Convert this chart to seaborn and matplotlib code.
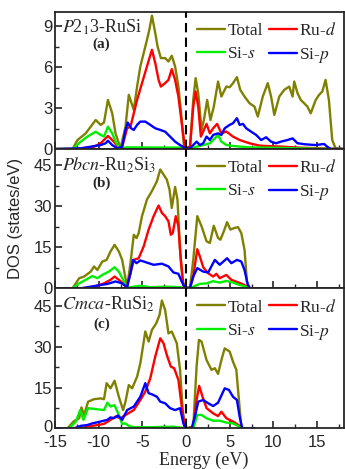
import matplotlib
matplotlib.use("Agg")
import matplotlib.pyplot as plt
import matplotlib.transforms as mtransforms
import seaborn as sns
import pandas as pd
from matplotlib.lines import Line2D
from matplotlib.ticker import MultipleLocator

# ---------------- data (energy in eV, DOS in states/eV) ----------------
# Panel (a) P2_13-RuSi
a_tot_x = [-15, -12.99, -12.42, -11.48, -10.91, -10.34, -9.77, -9.39, -8.94, -8.45, -8.07, -7.5, -6.93, -6.55, -5.98, -5.6, -5.23, -4.85, -4.47, -4.2, -3.9, -3.52, -3.26, -2.88, -2.39, -2.01, -1.63, -1.25, -0.87, -0.49, -0.23, 0.0,
           0.46, 0.83, 1.10, 1.40, 1.78, 2.05, 2.42, 2.80, 3.18, 3.67, 4.05, 4.62, 5.0, 5.38, 5.83, 6.21, 6.70, 7.27, 7.84, 8.22, 8.79, 9.36, 9.74, 10.11, 10.68, 11.25, 11.82, 12.2, 12.39, 12.77, 13.14, 13.52, 13.9, 14.28, 14.85, 15.23, 15.61, 15.98, 16.36, 16.74, 17.12, 18]
a_tot_y = [0, 0, 0.66, 1.15, 1.64, 2.13, 1.77, 1.94, 3.6, 2.62, 1.15, 0.05, 1.64, 3.97, 2.87, 4.58, 6.06, 7.03, 8.0, 8.75, 9.78, 8.5, 7.53, 6.67, 6.67, 6.42, 6.84, 6.06, 4.58, 2.13, 0.17, 0,
           0.17, 3.6, 5.2, 4.09, 1.4, 2.13, 3.6, 2.13, 3.1, 4.95, 3.85, 4.58, 4.53, 4.83, 5.27, 4.34, 3.85, 3.36, 3.11, 2.38, 3.85, 4.83, 3.85, 2.5, 3.85, 4.34, 4.58, 3.85, 4.95, 4.09, 3.6, 3.36, 3.11, 2.62, 3.6, 3.97, 4.22, 5.07, 3.6, 0.66, 0.05, 0]
a_rud_x = [-15, -12.42, -10.53, -9.77, -8.94, -8.26, -7.69, -7.31, -6.74, -6.36, -5.6, -5.04, -4.47, -3.9, -3.52, -3.14, -2.88, -2.39, -2.01, -1.63, -1.25, -0.87, -0.49, -0.11,
           0.46, 0.83, 1.10, 1.40, 1.70, 2.05, 2.35, 2.73, 3.11, 3.56, 4.05, 4.62, 5.38, 6.14, 7.27, 8.41, 9.17, 11.06, 12.95, 16.74, 18]
a_rud_y = [0, 0, 0.17, 0.42, 0.96, 0.54, 0.05, 0.17, 1.52, 1.64, 3.6, 4.83, 6.06, 7.28, 6.3, 5.07, 4.58, 4.83, 5.07, 5.86, 5.07, 3.85, 1.89, 0.05,
           0.17, 3.11, 4.22, 3.11, 0.91, 1.4, 1.84, 1.15, 1.52, 1.84, 1.15, 1.28, 0.91, 0.66, 0.42, 0.25, 0.22, 0.17, 0.1, 0.02, 0]
a_sis_x = [-15, -12.99, -12.05, -11.29, -10.34, -9.77, -9.39, -8.94, -8.45, -8.07, -7.58, -6.74, -0.3, 0.0,
           0.46, 1.21, 1.97, 2.73, 3.3, 3.67, 4.05, 4.62, 5.38, 7.27, 9.17, 12.95, 16.74, 18]
a_sis_y = [0, 0, 0.54, 0.91, 1.27, 1.03, 0.91, 1.64, 1.15, 0.54, 0.05, 0.12, 0.1, 0,
           0, 0.17, 0.29, 0.42, 0.78, 1.03, 0.54, 0.29, 0.22, 0.12, 0.1, 0.05, 0, 0]
a_sip_x = [-15, -12.05, -10.91, -9.77, -9.2, -8.94, -8.45, -7.88, -7.31, -6.93, -6.67, -6.29, -5.98, -5.6, -5.23, -4.66, -4.09, -3.52, -2.95, -2.39, -1.82, -1.25, -0.68, -0.11,
           0.46, 0.83, 1.21, 1.59, 1.97, 2.35, 2.73, 3.11, 3.67, 4.05, 4.43, 5.0, 5.38, 5.83, 6.14, 6.52, 6.89, 7.46, 8.03, 8.6, 9.17, 9.74, 10.3, 10.87, 11.63, 12.2, 12.77, 13.71, 14.85, 15.8, 16.17, 16.55, 18]
a_sip_y = [0, 0.05, 0.17, 0.29, 0.42, 0.61, 0.29, 0.05, 0.17, 1.4, 1.94, 1.52, 1.4, 1.77, 2.01, 2.01, 1.77, 1.52, 1.4, 1.27, 0.91, 0.54, 0.29, 0.05,
           0.05, 0.29, 0.54, 0.29, 0.42, 0.91, 0.66, 1.03, 1.15, 1.03, 1.52, 1.77, 1.89, 2.26, 1.77, 1.84, 1.52, 1.27, 1.03, 0.66, 0.86, 0.54, 0.42, 0.54, 0.66, 0.78, 0.42, 0.34, 0.29, 0.37, 0.17, 0, 0]

# Panel (b) Pbcn-Ru2Si3
b_tot_x = [-15, -12.99, -12.23, -11.67, -10.91, -10.53, -10.15, -9.58, -9.09, -8.64, -8.18, -7.69, -7.31, -6.93, -6.74, -6.36, -5.98, -5.67, -5.42, -5.04, -4.47, -3.9, -3.33, -2.95, -2.58, -2.2, -1.89, -1.63, -1.25, -0.98, -0.68, -0.38, -0.11,
           0.46, 0.83, 1.29, 1.78, 2.35, 2.73, 3.18, 3.67, 3.94, 4.32, 4.7, 5.08, 5.57, 5.95, 6.33, 6.7, 6.97, 7.27, 9.2]
b_tot_y = [0, 0, 3.7, 4.3, 6.1, 8.0, 6.7, 9.8, 10.4, 13.5, 15.9, 13.5, 10.4, 3.7, 0.6, 9.2, 19.6, 18.4, 20.2, 26.4, 32.5, 35.6, 39.2, 43.5, 41.7, 39.8, 36.2, 29.4, 37.1, 32.5, 14.1, 2.5, 0,
           0.4, 10.4, 26.4, 22.7, 17.2, 16.6, 22.9, 18.4, 17.8, 20.8, 24.2, 21.5, 22.1, 22.4, 20.2, 14.1, 2.5, 0, 0]
b_rud_x = [-15, -11.67, -10.53, -9.39, -8.64, -8.18, -7.69, -7.2, -6.82, -6.36, -5.98, -5.42, -4.85, -4.28, -3.71, -3.14, -2.76, -2.39, -2.01, -1.74, -1.52, -1.17, -0.87, -0.6, -0.3, -0.11,
           0.46, 0.83, 1.29, 1.59, 1.97, 2.54, 3.11, 3.48, 3.86, 4.62, 5.19, 5.95, 6.7, 7.27, 9.2]
b_rud_y = [0, 0, 0.6, 1.8, 3.1, 4.3, 3.1, 1.8, 0.4, 5.5, 10.4, 11.0, 15.3, 21.5, 26.4, 30.3, 27.6, 26.4, 24.5, 19.6, 20.2, 26.4, 22.7, 10.4, 1.2, 0,
           0.2, 4.3, 14.3, 11.6, 7.7, 5.5, 4.3, 5.3, 3.7, 4.9, 3.1, 2.2, 1.2, 0, 0]
b_sis_x = [-15, -12.99, -12.23, -11.48, -10.72, -10.15, -9.58, -8.83, -8.18, -7.69, -7.2, -6.74, -5.98, -5.23, -4.09, -2.2, -0.68, -0.11,
           0.46, 1.02, 1.59, 2.35, 3.11, 3.86, 4.62, 5.38, 6.14, 6.89, 7.27, 9.2]
b_sis_y = [0, 0, 1.8, 3.1, 4.5, 3.7, 4.9, 6.1, 7.7, 6.1, 3.1, 0.2, 0.6, 0.9, 0.4, 0.6, 0.4, 0,
           0, 0.9, 1.6, 1.8, 2.6, 2.1, 2.7, 2.1, 1.2, 0.6, 0, 0]
b_sip_x = [-15, -12.05, -10.91, -9.77, -9.01, -8.07, -7.31, -6.74, -6.36, -6.06, -5.67, -5.23, -4.47, -3.71, -2.76, -2.01, -1.44, -0.87, -0.49, -0.11,
           0.46, 0.83, 1.29, 1.97, 2.54, 3.3, 3.86, 4.7, 5.19, 5.83, 6.33, 6.7, 7.08, 7.35, 9.2]
b_sip_y = [0, 0, 0.6, 1.2, 1.6, 2.5, 1.8, 0.4, 5.5, 10.4, 9.2, 10.2, 9.4, 8.6, 9.0, 8.0, 5.8, 5.3, 2.5, 0,
           0.2, 4.3, 7.4, 6.1, 5.8, 10.4, 8.6, 11.0, 9.2, 10.4, 9.8, 6.7, 1.2, 0, 0]

# Panel (c) Cmca-RuSi2
c_tot_x = [-15, -13.56, -12.88, -12.23, -11.97, -11.67, -11.21, -10.53, -9.77, -9.39, -9.09, -8.64, -8.18, -7.69, -7.2, -6.93, -6.55, -6.17, -5.6, -5.23, -4.66, -4.28, -3.9, -3.41, -3.03, -2.76, -2.39, -2.01, -1.63, -1.06, -0.68, -0.38, -0.11,
           0.83, 1.21, 1.48, 1.78, 2.35, 2.92, 3.3, 3.67, 4.05, 4.43, 5.0, 5.38, 5.76, 6.06, 6.33, 6.7, 7.8]
c_tot_y = [0, 0, 2.5, 3.7, 7.7, 4.9, 9.8, 10.7, 11.0, 10.7, 16.6, 14.7, 17.5, 11.6, 6.7, 9.8, 15.9, 14.7, 19.0, 23.9, 35.6, 31.9, 36.2, 38.6, 41.7, 47.0, 43.5, 34.9, 35.6, 31.3, 21.5, 6.7, 0,
           0.6, 22.7, 32.5, 31.9, 25.1, 21.5, 22.1, 20.0, 25.1, 29.4, 28.2, 24.5, 21.5, 10.4, 0.2, 0, 0]
c_rud_x = [-15, -12.05, -11.29, -10.15, -9.39, -8.64, -8.07, -7.5, -6.93, -5.98, -5.23, -4.66, -4.09, -3.52, -2.95, -2.58, -2.2, -1.74, -1.36, -0.87, -0.49, -0.11,
           0.83, 1.21, 1.51, 1.89, 2.35, 3.11, 3.67, 4.05, 4.62, 5.38, 6.14, 6.44, 7.8]
c_rud_y = [0, 0, 0.6, 1.2, 1.6, 3.1, 4.3, 3.7, 4.9, 6.7, 10.4, 13.5, 18.4, 26.4, 33.1, 31.3, 27.0, 22.7, 22.1, 17.8, 8.0, 0,
           0.2, 10.4, 15.6, 11.6, 7.4, 5.5, 4.5, 6.1, 3.7, 2.5, 0.9, 0, 0]
c_sis_x = [-15, -13.37, -12.61, -12.12, -11.74, -11.21, -10.15, -9.39, -9.01, -8.64, -8.18, -7.69, -7.31, -6.93, -6.55, -5.98, -4.09, -1.44, -0.11,
           0.83, 1.29, 1.78, 2.35, 3.11, 3.86, 4.62, 5.38, 5.95, 6.33, 7.8]
c_sis_y = [0, 0, 2.5, 6.7, 3.1, 7.4, 7.0, 6.7, 9.4, 8.0, 8.5, 4.9, 1.6, 1.8, 0.9, 0.4, 0.4, 0.6, 0,
           0, 4.9, 4.9, 3.7, 2.8, 2.8, 2.1, 1.8, 0.9, 0, 0]
c_sip_x = [-15, -12.8, -12.05, -11.29, -10.72, -9.77, -9.01, -8.64, -8.26, -7.8, -7.31, -6.74, -5.98, -5.23, -4.66, -4.28, -3.9, -3.33, -2.95, -2.39, -1.82, -1.25, -0.68, -0.3, -0.04,
           0.64, 1.02, 1.4, 1.97, 2.54, 3.11, 3.67, 4.17, 4.43, 4.92, 5.38, 5.83, 6.14, 6.44, 7.84]
c_sip_y = [0, 0, 0.9, 1.2, 1.8, 2.5, 3.1, 4.0, 3.7, 4.7, 3.1, 6.7, 8.0, 11.6, 16.6, 12.9, 12.5, 11.6, 9.8, 9.2, 7.4, 6.7, 7.4, 1.8, 0,
           0, 4.3, 9.8, 10.4, 9.2, 8.2, 9.4, 12.9, 14.7, 14.1, 11.6, 10.4, 4.3, 0, 0]

series_names = ["Total", "Ru-d", "Si-s", "Si-p"]
panel_titles = [r"$P$2$_1$3-RuSi", r"$Pbcn$-Ru$_2$Si$_3$", r"$Cmca$-RuSi$_2$"]
panel_tags = ["(a)", "(b)", "(c)"]
x_ticks = [-15, -10, -5, 0, 5, 10, 15]
y_ticks = [[0, 3, 6, 9], [0, 15, 30, 45], [0, 15, 30, 45]]
y_limits = [(0, 10.05), (0, 51), (0, 51.5)]

panels = [
    [(a_tot_x, a_tot_y), (a_rud_x, a_rud_y), (a_sis_x, a_sis_y), (a_sip_x, a_sip_y)],
    [(b_tot_x, b_tot_y), (b_rud_x, b_rud_y), (b_sis_x, b_sis_y), (b_sip_x, b_sip_y)],
    [(c_tot_x, c_tot_y), (c_rud_x, c_rud_y), (c_sis_x, c_sis_y), (c_sip_x, c_sip_y)],
]

# ---------------- style ----------------
sns.set_style("ticks")
plt.rcParams["font.family"] = ["Liberation Serif", "DejaVu Serif"]
plt.rcParams["mathtext.fontset"] = "stix"
plt.rcParams["axes.linewidth"] = 1.3

palette = {"Total": "#808000", "Ru-d": "#ff0000", "Si-s": "#00ee00", "Si-p": "#0000ff"}
legend_labels = {"Total": "Total", "Ru-d": r"Ru-$d$", "Si-s": r"Si-$s$", "Si-p": r"Si-$p$"}

fig = plt.figure(figsize=(3.45, 4.69), dpi=100)
left, width = 0.1594, 0.838
boxes = [(0.6823, 0.2921), (0.3853, 0.2970), (0.0868, 0.2985)]

tick_font = dict(family=["Liberation Sans", "DejaVu Sans"], size=12)

for i, (bottom, height) in enumerate(boxes):
    ax = fig.add_axes([left, bottom, width, height])
    rows = []
    for name, (xs, ys) in zip(series_names, panels[i]):
        for xv, yv in zip(xs, ys):
            rows.append({"Energy": xv, "DOS": yv, "Series": name})
    df = pd.DataFrame(rows)
    sns.lineplot(data=df, x="Energy", y="DOS", hue="Series", hue_order=series_names,
                 palette=palette, estimator=None, sort=False, linewidth=1.7,
                 legend=False, ax=ax)
    ax.axvline(0, color="black", linestyle=(0, (4.5, 2.5)), linewidth=1.5, zorder=5)
    ax.set_xlim(-15, 18.1)
    ax.set_ylim(*y_limits[i])
    ax.set_xticks(x_ticks)
    ax.set_yticks(y_ticks[i])
    ax.xaxis.set_minor_locator(MultipleLocator(2.5))
    ax.yaxis.set_minor_locator(MultipleLocator(y_ticks[i][1] / 2))
    ax.tick_params(which="major", direction="in", length=5, width=1.2)
    ax.tick_params(which="minor", direction="in", length=3, width=1.0)
    ax.tick_params(axis="both", which="both", top=False, right=False)
    ax.tick_params(axis="y", pad=2)
    ax.tick_params(axis="x", pad=4.5)
    ax.set_xlabel("")
    ax.set_ylabel("")
    for lab in ax.get_yticklabels():
        lab.set_fontfamily(tick_font["family"])
        lab.set_fontsize(tick_font["size"])
    if i < 2:
        ax.set_xticklabels([])
    else:
        ax.set_xticklabels([str(t) for t in x_ticks], **tick_font)
        zero_lab = ax.get_yticklabels()[0]
        zero_lab.set_transform(zero_lab.get_transform() +
                               mtransforms.ScaledTranslation(0, 2 / 100, fig.dpi_scale_trans))
    for sp in ax.spines.values():
        sp.set_visible(True)
        sp.set_linewidth(1.3)

    ax.text(0.025, 0.885, panel_titles[i], transform=ax.transAxes, fontsize=13,
            ha="left", va="center")
    ax.text(0.16, 0.765 - 0.01 * i, panel_tags[i], transform=ax.transAxes, fontsize=11,
            fontweight="bold", ha="center", va="center")

    handles = [Line2D([], [], color=palette[n], linewidth=1.7) for n in series_names]
    order = [0, 2, 1, 3]
    ax.legend([handles[k] for k in order], [legend_labels[series_names[k]] for k in order],
              ncol=2, loc="upper right", bbox_to_anchor=(0.995, 0.97), frameon=False,
              fontsize=12.5, handlelength=1.6, handletextpad=0.15, columnspacing=0.35,
              labelspacing=0.4, borderaxespad=0.15, borderpad=0.2)

fig.text(0.044, 0.535, "DOS (states/eV)", rotation=90, ha="center", va="center",
         family=["Liberation Sans", "DejaVu Sans"], fontsize=12)
fig.text(0.59, 0.019, "Energy (eV)", ha="center", va="center", fontsize=13)

fig.savefig("out.png", dpi=100)
